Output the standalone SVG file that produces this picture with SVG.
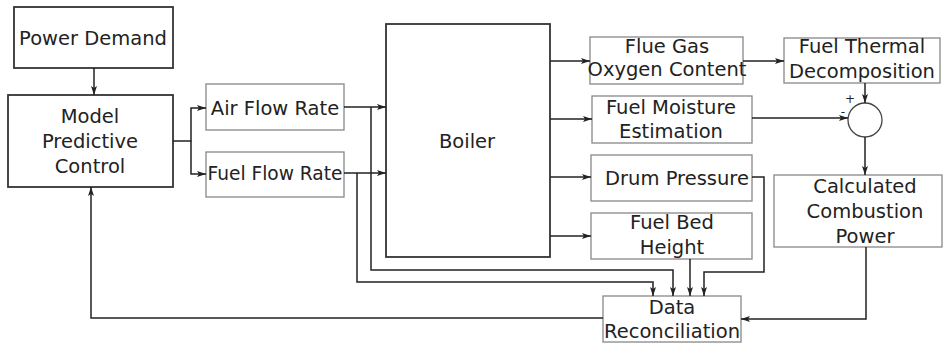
<svg xmlns="http://www.w3.org/2000/svg" width="944" height="347" viewBox="0 0 944 347">
<style>
.b{fill:#fff;stroke:#888;stroke-width:1.3}
.d{fill:#fff;stroke:#333;stroke-width:1.8}
.t{font-family:"DejaVu Sans",sans-serif;font-size:19.5px;fill:#222;text-anchor:middle}
.s{font-family:"DejaVu Sans",sans-serif;font-size:12px;fill:#222;text-anchor:middle}
.c path{fill:none;stroke:#222;stroke-width:1.5}
</style>
<defs>
<marker id="a" markerWidth="10" markerHeight="8" refX="9" refY="4" orient="auto" markerUnits="userSpaceOnUse">
<path d="M0,1 L9,4 L0,7 L2,4 z" fill="#222"/>
</marker>
</defs>
<g id="power-demand"><rect class="d" x="14" y="7" width="159" height="61"/><text class="t" x="93" y="45">Power Demand</text></g>
<g id="mpc"><rect class="d" x="8" y="95" width="165" height="92"/><text class="t" x="90" y="123">Model</text><text class="t" x="90" y="148">Predictive</text><text class="t" x="90" y="173">Control</text></g>
<g id="air-flow"><rect class="b" x="206" y="84" width="138" height="46"/><text class="t" x="275" y="115">Air Flow Rate</text></g>
<g id="fuel-flow"><rect class="b" x="206" y="152" width="138" height="45"/><text class="t" x="275" y="180" textLength="135" lengthAdjust="spacingAndGlyphs">Fuel Flow Rate</text></g>
<g id="boiler"><rect class="d" x="386" y="24" width="164" height="233"/><text class="t" x="467" y="148">Boiler</text></g>
<g id="flue-gas"><rect class="b" x="590" y="37" width="153" height="47"/><text class="t" x="667" y="53">Flue Gas</text><text class="t" x="667" y="76">Oxygen Content</text></g>
<g id="fuel-moisture"><rect class="b" x="592" y="96" width="160" height="47"/><text class="t" x="671" y="114">Fuel Moisture</text><text class="t" x="671" y="138">Estimation</text></g>
<g id="drum-pressure"><rect class="b" x="591" y="155" width="161" height="46"/><text class="t" x="677" y="185">Drum Pressure</text></g>
<g id="fuel-bed"><rect class="b" x="591" y="213" width="161" height="46"/><text class="t" x="672" y="229">Fuel Bed</text><text class="t" x="672" y="254">Height</text></g>
<g id="data-reconciliation"><rect class="b" x="603" y="296" width="138" height="46"/><text class="t" x="672" y="314">Data</text><text class="t" x="672" y="338" textLength="136" lengthAdjust="spacingAndGlyphs">Reconciliation</text></g>
<g id="fuel-thermal"><rect class="b" x="784" y="38" width="156" height="45"/><text class="t" x="862" y="53">Fuel Thermal</text><text class="t" x="862" y="78">Decomposition</text></g>
<g id="sum"><circle cx="865" cy="120" r="17" fill="#fff" stroke="#444" stroke-width="1.3"/><text class="s" x="850" y="103">+</text><text class="s" x="843" y="116">-</text></g>
<g id="combustion-power"><rect class="b" x="774" y="175" width="168" height="72"/><text class="t" x="865" y="193">Calculated</text><text class="t" x="865" y="218">Combustion</text><text class="t" x="865" y="243">Power</text></g>
<g class="c" id="connectors">
<path d="M94,68 V95" marker-end="url(#a)"/>
<path d="M173,141 H191 V108 H206" marker-end="url(#a)"/>
<path d="M191,141 V174 H206" marker-end="url(#a)"/>
<path d="M344,107 H386" marker-end="url(#a)"/>
<path d="M344,173 H386" marker-end="url(#a)"/>
<path d="M371,107 V270 H673 V296" marker-end="url(#a)"/>
<path d="M357,173 V282 H653 V296" marker-end="url(#a)"/>
<path d="M550,61 H590" marker-end="url(#a)"/>
<path d="M550,119 H592" marker-end="url(#a)"/>
<path d="M550,177 H591" marker-end="url(#a)"/>
<path d="M550,236 H591" marker-end="url(#a)"/>
<path d="M743,61 H784" marker-end="url(#a)"/>
<path d="M865,83 V103" marker-end="url(#a)"/>
<path d="M752,118 H848" marker-end="url(#a)"/>
<path d="M865,137 V175" marker-end="url(#a)"/>
<path d="M690,259 V296" marker-end="url(#a)"/>
<path d="M752,177 H764 V272 H704 V296" marker-end="url(#a)"/>
<path d="M866,247 V319 H741" marker-end="url(#a)"/>
<path d="M603,318 H91 V187" marker-end="url(#a)"/>
</g>
</svg>
